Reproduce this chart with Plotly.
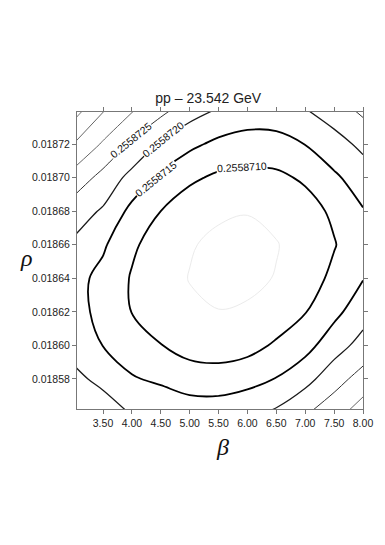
import plotly.graph_objects as go

# ---- data ----
beta = [3.0, 3.5, 4.0, 4.5, 5.0, 5.5, 6.0, 6.5, 7.0, 7.5, 8.0]
rho = [0.01856, 0.01858, 0.01860, 0.01862, 0.01864,
       0.01866, 0.01868, 0.01870, 0.01872, 0.01874]
# surface value = 0.25587 + offset * 1e-7 ; one row per rho value, columns follow beta
offset_rows = [
    [25.0, 22.6, 19.6, 19.4, 17.6, 17.6, 18.8, 20.8, 24.4, 28.0, 32.6],
    [21.2, 18.7, 15.5, 14.0, 12.6, 12.35, 13.3, 15.2, 18.3, 23.0, 27.0],
    [18.2, 14.9, 12.0, 10.15, 8.0, 7.4, 8.26, 10.7, 13.3, 17.8, 21.8],
    [16.6, 13.7, 9.9, 7.6, 5.76, 5.10, 5.53, 7.04, 9.8, 13.7, 17.9],
    [16.6, 13.6, 9.6, 6.9, 4.85, 3.89, 4.00, 5.21, 7.5, 11.2, 14.8],
    [19.2, 15.7, 10.8, 7.7, 5.34, 4.07, 3.88, 4.78, 6.9, 9.7, 13.5],
    [22.4, 19.4, 13.6, 10.0, 7.22, 5.65, 5.16, 6.2, 8.0, 10.9, 14.7],
    [28.0, 23.4, 18.4, 14.1, 10.9, 9.1, 8.75, 9.0, 10.7, 14.2, 17.4],
    [34.8, 29.4, 24.2, 19.3, 16.1, 13.9, 12.9, 13.05, 15.1, 18.0, 21.2],
    [42.0, 35.3, 30.3, 26.4, 22.1, 19.5, 17.9, 18.1, 19.7, 22.5, 26.0],
]
base_value = 0.25587
levels = [0.2558705, 0.2558710, 0.2558715, 0.2558720,
          0.2558725, 0.2558730, 0.2558735, 0.2558740]
labelled_levels = [0.2558725, 0.2558720, 0.2558715, 0.2558710]
x_ticks = [3.5, 4.0, 4.5, 5.0, 5.5, 6.0, 6.5, 7.0, 7.5, 8.0]
y_ticks = [0.01858, 0.01860, 0.01862, 0.01864, 0.01866, 0.01868, 0.01870, 0.01872]
title_text = "pp \u2013 23.542 GeV"

# ---- styling ----
line_styles = {
    0.2558705: ("#ebebeb", 1.0),
    0.2558710: ("#000000", 1.8),
    0.2558715: ("#000000", 1.8),
    0.2558720: ("#1a1a1a", 1.3),
    0.2558725: ("#333333", 1.0),
    0.2558730: ("#555555", 0.9),
    0.2558735: ("#555555", 0.9),
    0.2558740: ("#666666", 0.9),
}
# label placement (data coords) and rotation
label_pos = {
    0.2558725: (3.985, 0.0187224, -39),
    0.2558720: (4.545, 0.0187230, -39),
    0.2558715: (4.410, 0.0186991, -39),
    0.2558710: (5.900, 0.0187063, -3),
}

z = [[base_value + v * 1e-7 for v in row] for row in offset_rows]

fig = go.Figure()
for lv in levels:
    col, w = line_styles[lv]
    fig.add_trace(go.Contour(
        x=beta, y=rho, z=z,
        contours=dict(start=lv, end=lv, size=1e-7, coloring="none", showlabels=False),
        line=dict(color=col, width=w, smoothing=1.0),
        showscale=False, hoverinfo="skip",
    ))

font_sans = "Liberation Sans, Arial, sans-serif"
annotations = []
for lv in labelled_levels:
    ax, ay, ang = label_pos[lv]
    annotations.append(dict(
        x=ax, y=ay, xref="x", yref="y", text=f"{lv:.7f}", showarrow=False,
        textangle=ang, bgcolor="white", borderpad=0,
        font=dict(family=font_sans, size=10.5, color="#111111"),
    ))
annotations.append(dict(
    x=0.507, y=-0.128, xref="paper", yref="paper", text="<i>\u03b2</i>",
    showarrow=False, font=dict(family="Liberation Serif, Times New Roman, serif", size=24, color="#111111"),
    xanchor="center", yanchor="middle",
))
annotations.append(dict(
    x=-0.178, y=0.508, xref="paper", yref="paper", text="<i>\u03c1</i>",
    showarrow=False, font=dict(family="Liberation Serif, Times New Roman, serif", size=24, color="#111111"),
    xanchor="center", yanchor="middle",
))

axis_common = dict(
    showgrid=False, zeroline=False, showline=True, linecolor="#777777", linewidth=1,
    mirror="allticks", ticks="outside", ticklen=4, tickcolor="#777777", tickwidth=1,
    tickfont=dict(family=font_sans, size=10.5, color="#222222"),
)

fig.update_layout(
    width=385, height=545,
    margin=dict(l=77, r=16, t=112, b=136),
    paper_bgcolor="white", plot_bgcolor="white",
    showlegend=False,
    title=dict(text=title_text, x=0.459, xref="paper", xanchor="center",
               y=1 - 98 / 545, yref="container", yanchor="middle",
               font=dict(family=font_sans, size=14, color="#222222")),
    xaxis=dict(range=[3.05, 8.0], tickvals=x_ticks,
               ticktext=[f"{t:.2f}" for t in x_ticks], **axis_common),
    yaxis=dict(range=[0.0185621, 0.0187391], tickvals=y_ticks,
               ticktext=[f"{t:.5f}" for t in y_ticks], **axis_common),
    annotations=annotations,
)

fig.write_html(
    "out.html",
    config={"displayModeBar": False},
    post_script="document.body.style.margin='0';document.body.style.overflow='hidden';",
)
